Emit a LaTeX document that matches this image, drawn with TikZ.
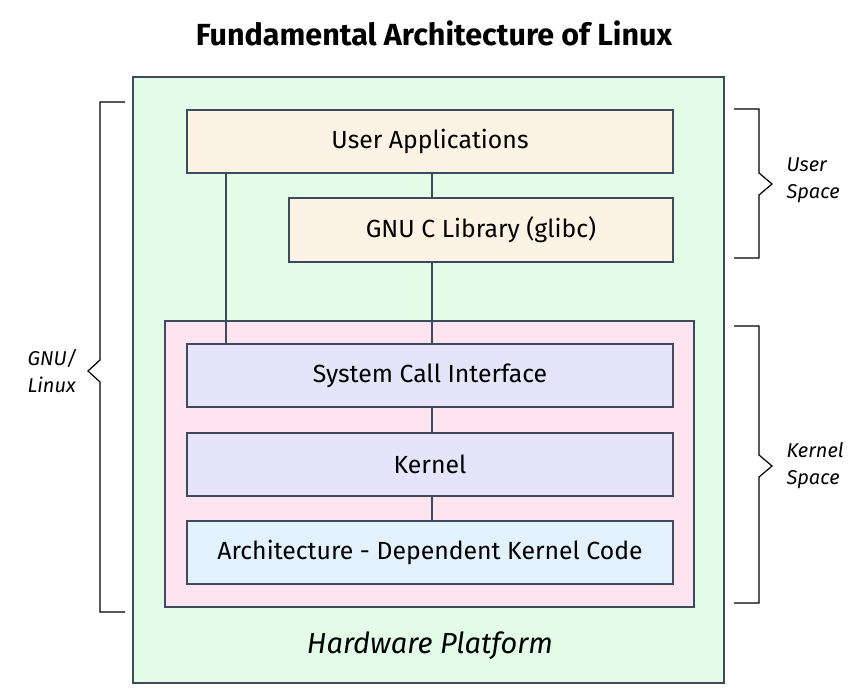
\documentclass[tikz,border=0pt]{standalone}
\usepackage{fontspec}
\setmainfont{Fira Sans}
\usetikzlibrary{positioning}
\definecolor{edge}{HTML}{3D4B5C}
\definecolor{hwgreen}{HTML}{E3FCE8}
\definecolor{userbg}{HTML}{FDF3E5}
\definecolor{kernbg}{HTML}{FDE4EF}
\definecolor{lavbg}{HTML}{E6E4FB}
\definecolor{archbg}{HTML}{E3F1FD}
\begin{document}
\begin{tikzpicture}[x=1pt,y=-1pt,
    layer/.style={draw=edge,line width=1.2pt,minimum width=486pt,minimum height=63pt,inner sep=0pt,font=\fontsize{24.8}{28}\selectfont},
    brace/.style={black,line width=1.2pt},
    side/.style={align=left,anchor=west,font=\fontsize{20}{27}\selectfont\itshape},
    link/.style={edge,line width=1.2pt}]
    \useasboundingbox (0,0) rectangle (865,700);
    \node[font=\fontsize{30.5}{34}\selectfont\bfseries] (title) at (434,33) {Fundamental Architecture of Linux};
    % hardware and kernel frames
    \node[draw=edge,fill=hwgreen,line width=1.2pt,minimum width=591pt,minimum height=606pt] (hw) at (428.5,380) {};
    \node[font=\fontsize{29}{32}\selectfont\itshape] (hwlabel) at (430,646) {Hardware Platform};
    \node[draw=edge,fill=kernbg,line width=1.2pt,minimum width=529pt,minimum height=286pt] (kspace) at (429.5,464) {};
    % layers
    \node[layer,fill=userbg] (ua) at (430,141.5) {User Applications};
    \node[layer,fill=userbg,minimum width=384pt,minimum height=64pt] (glibc) at (481,230) {GNU C Library (glibc)};
    \node[layer,fill=lavbg] (sci) at (430,375.5) {System Call Interface};
    \node[layer,fill=lavbg] (kernel) at (430,464.5) {Kernel};
    \node[layer,fill=archbg] (arch) at (430,552.5) {Architecture - Dependent Kernel Code};
    % connections
    \draw[link] ([xshift=39.5pt]ua.south west) -- ([xshift=39.5pt]sci.north west);
    \draw[link] ([xshift=2pt]ua.south) -- ([xshift=2pt]ua.south |- glibc.north);
    \draw[link] ([xshift=2pt]ua.south |- glibc.south) -- ([xshift=2pt]sci.north);
    \draw[link] ([xshift=2pt]sci.south) -- ([xshift=2pt]kernel.north);
    \draw[link] ([xshift=2pt]kernel.south) -- ([xshift=2pt]arch.north);
    % brackets
    \draw[brace] (125,102) -- (100,102) -- (100,360) -- (88,371) -- (100,382) -- (100,612) -- (125,612);
    \draw[brace] (734,109) -- (759,109) -- (759,173) -- (772,184) -- (759,195) -- (759,258) -- (734,258);
    \draw[brace] (734,326) -- (759,326) -- (759,455) -- (772,466) -- (759,477) -- (759,603) -- (734,603);
    \node[side] (gnu) at (24,371) {GNU/\\Linux};
    \node[side] (uspace) at (783,180) {User\\Space};
    \node[side] (kspacelabel) at (783,466) {Kernel\\Space};
\end{tikzpicture}
\end{document}
